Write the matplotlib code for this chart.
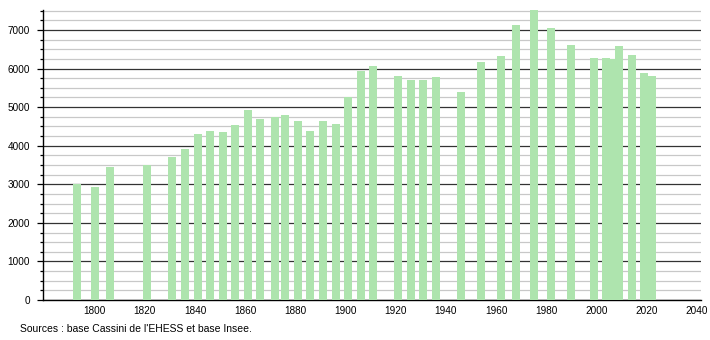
import matplotlib
matplotlib.use('Agg')
import matplotlib.pyplot as plt
from matplotlib.ticker import MultipleLocator

# Données de population
annees = [1793, 1800, 1806, 1821, 1831, 1836, 1841, 1846, 1851, 1856,
          1861, 1866, 1872, 1876, 1881, 1886, 1891, 1896, 1901, 1906,
          1911, 1921, 1926, 1931, 1936, 1946, 1954, 1962, 1968, 1975,
          1982, 1990, 1999, 2004, 2006, 2009, 2014, 2019, 2022]
population = [3005, 2940, 3455, 3490, 3715, 3915, 4305, 4380, 4355, 4535,
              4925, 4695, 4735, 4795, 4640, 4380, 4640, 4565, 5265, 5935,
              6065, 5810, 5705, 5705, 5780, 5395, 6170, 6325, 7130, 7520,
              7050, 6610, 6275, 6275, 6250, 6585, 6350, 5885, 5810]
ticks_x = list(range(1800, 2041, 20))
source = "Sources : base Cassini de l'EHESS et base Insee."

plt.rcParams['font.family'] = ['Liberation Sans', 'DejaVu Sans']

fig = plt.figure(figsize=(7.1, 3.4), dpi=100)
ax = fig.add_axes([0.0606, 0.1176, 0.9264, 0.8544])

ax.bar(annees, population, width=3.2, color='#aee4ae', zorder=3)

ax.set_xlim(1779.4, 2041.6)
ax.set_ylim(0, 7530)

# Grille : lignes foncées tous les 1000, claires tous les 250
ax.yaxis.set_major_locator(MultipleLocator(1000))
ax.yaxis.set_minor_locator(MultipleLocator(250))
ax.grid(axis='y', which='minor', color='#c8c8c8', linewidth=0.9, zorder=1)
ax.grid(axis='y', which='major', color='#333333', linewidth=0.9, zorder=2)

ax.set_xticks(ticks_x)
ax.tick_params(axis='x', length=0, pad=4, labelsize=7.2)
ax.tick_params(axis='y', which='major', length=4, width=0.9, pad=5.5, labelsize=7.2)
ax.tick_params(axis='y', which='minor', length=2.5, width=0.9)

for cote in ['top', 'right']:
    ax.spines[cote].set_visible(False)
ax.spines['left'].set_linewidth(1.0)
ax.spines['bottom'].set_linewidth(1.0)

fig.text(0.028, 0.033, source, fontsize=7.5, ha='left', va='center')

fig.savefig('out.png', dpi=100, facecolor='white')
